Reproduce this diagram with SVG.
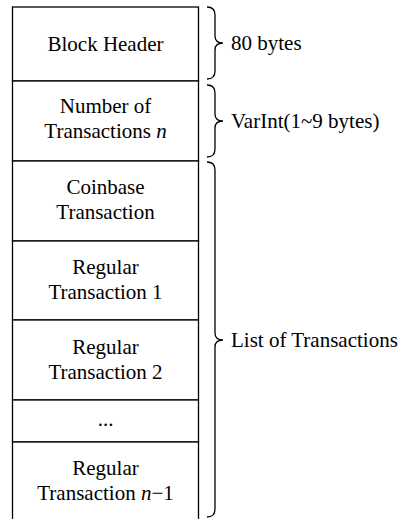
<svg xmlns="http://www.w3.org/2000/svg" width="407" height="519" viewBox="0 0 407 519">
<style>
.box{fill:#fff;stroke:#000;stroke-width:1.3}
text{font-family:'Liberation Serif','Times New Roman',Times,'DejaVu Serif',serif;font-size:21px;fill:#000}
.c{text-anchor:middle}
.brace{fill:none;stroke:#000;stroke-width:1.3}
</style>
<rect width="407" height="519" fill="#fff"/>
<g font-family="Liberation Serif, Times New Roman, DejaVu Serif, serif">
<g id="block-header">
<rect class="box" x="12.5" y="7" width="186" height="74"/>
<text class="c" x="105.5" y="51">Block Header</text>
</g>
<g id="tx-count">
<rect class="box" x="12.5" y="81" width="186" height="80"/>
<text class="c" x="105.5" y="113">Number of</text>
<text class="c" x="105.5" y="138">Transactions <tspan font-style="italic">n</tspan></text>
</g>
<g id="coinbase">
<rect class="box" x="12.5" y="161" width="186" height="80"/>
<text class="c" x="105.5" y="194">Coinbase</text>
<text class="c" x="105.5" y="219">Transaction</text>
</g>
<g id="regular-1">
<rect class="box" x="12.5" y="241" width="186" height="79"/>
<text class="c" x="105.5" y="274">Regular</text>
<text class="c" x="105.5" y="299">Transaction 1</text>
</g>
<g id="regular-2">
<rect class="box" x="12.5" y="320" width="186" height="80"/>
<text class="c" x="105.5" y="354">Regular</text>
<text class="c" x="105.5" y="379">Transaction 2</text>
</g>
<g id="ellipsis">
<rect class="box" x="12.5" y="400" width="186" height="42"/>
<text class="c" x="105.5" y="426">...</text>
</g>
<g id="regular-n-1">
<rect class="box" x="12.5" y="442" width="186" height="90"/>
<text class="c" x="105.5" y="475">Regular</text>
<text class="c" x="105.5" y="500">Transaction <tspan font-style="italic">n</tspan>−1</text>
</g>
<g id="braces">
<path class="brace" d="M207,7 Q215,7 215,15 L215,36 Q215,43 223,43 Q215,43 215,50 L215,71 Q215,79 207,79"/>
<path class="brace" d="M207,85 Q215,85 215,93 L215,114 Q215,121 223,121 Q215,121 215,128 L215,149 Q215,157 207,157"/>
<path class="brace" d="M207,162 Q215,162 215,170 L215,333 Q215,340 223,340 Q215,340 215,347 L215,509 Q215,517 207,517"/>
</g>
<g id="labels">
<text x="231" y="50">80 bytes</text>
<text x="231" y="128">VarInt(1~9 bytes)</text>
<text x="231" y="347">List of Transactions</text>
</g>
</g>
</svg>
